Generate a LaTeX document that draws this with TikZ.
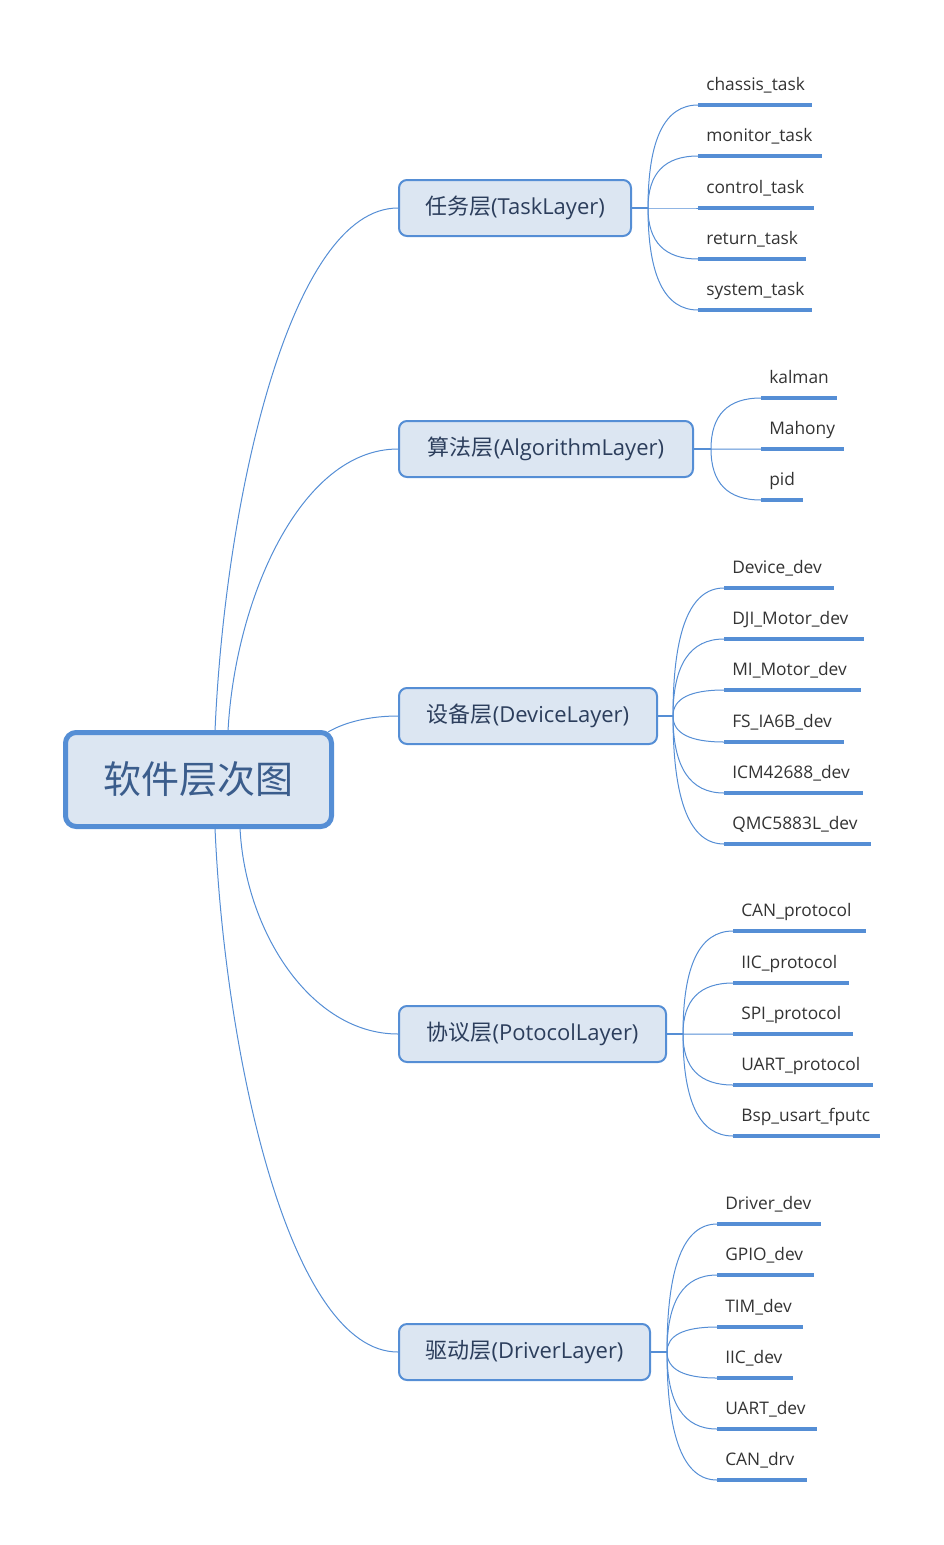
\documentclass[tikz,border=0pt]{standalone}
\usepackage{fontspec}
\setmainfont{Open Sans}
\newfontfamily\cjk{Noto Sans CJK SC}
\usetikzlibrary{calc,positioning}
\definecolor{mapblue}{HTML}{558ED5}
\definecolor{mapfill}{HTML}{DCE6F2}
\definecolor{roottext}{HTML}{3B5D8C}
\definecolor{layertext}{HTML}{2C3E5C}
\definecolor{leaftext}{HTML}{333333}
\tikzset{
		root/.style={draw=mapblue, line width=3.75pt, fill=mapfill,
			rounded corners=8pt, minimum width=199.5pt, minimum height=70.5pt,
			text=roottext, font=\cjk\fontsize{28.5}{32}\selectfont},
		layer/.style={draw=mapblue, line width=1.5pt, fill=mapfill,
			rounded corners=6pt, minimum height=42pt, anchor=west,
			text=layertext, font=\fontsize{16.5}{19}\selectfont},
		leaf/.style={anchor=base west, inner sep=0pt, text=leaftext,
			font=\fontsize{13}{15}\selectfont},
		link/.style={draw=mapblue, line width=0.75pt},
		stub/.style={draw=mapblue, line width=1.5pt},
		uline/.style={draw=mapblue, line width=2.4pt},
	}

\begin{document}
\begin{tikzpicture}[x=0.75pt, y=-0.75pt]
	\useasboundingbox (0,0) rectangle (943,1545);

	\node[root] (root) at (198.5,779.5) {软件层次图};

	\node[layer, minimum width=174pt]    (task)  at (398,208)  {{\cjk 任务层}(TaskLayer)};
	\node[layer, minimum width=220.5pt]  (algo)  at (398,449)  {{\cjk 算法层}(AlgorithmLayer)};
	\node[layer, minimum width=193.5pt]  (dev)   at (398,716)  {{\cjk 设备层}(DeviceLayer)};
	\node[layer, minimum width=200.25pt] (proto) at (398,1034) {{\cjk 协议层}(PotocolLayer)};
	\node[layer, minimum width=188.25pt] (drv)   at (398,1352) {{\cjk 驱动层}(DriverLayer)};

	% root to layers
	\coordinate (r-task)  at (215,731);
	\coordinate (r-algo)  at (228,731);
	\coordinate (r-dev)   at (328,732);
	\coordinate (r-proto) at (240,828);
	\coordinate (r-drv)   at (215,828);
	\draw[link] (r-task)  .. controls (225,500)  and (290,208)  .. (task.west);
	\draw[link] (r-algo)  .. controls (235,600)  and (300,449)  .. (algo.west);
	\draw[link] (r-dev)   .. controls (345,722)  and (370,716)  .. (dev.west);
	\draw[link] (r-proto) .. controls (245,930)  and (310,1034) .. (proto.west);
	\draw[link] (r-drv)   .. controls (225,1058) and (290,1352) .. (drv.west);

	% junctions
	\coordinate (task-j)  at (648,208);
	\coordinate (algo-j)  at (711,449);
	\coordinate (dev-j)   at (673,716);
	\coordinate (proto-j) at (683,1034);
	\coordinate (drv-j)   at (667,1352);
	\foreach \l in {task,algo,dev,proto,drv}
		\draw[stub] (\l.east) -- (\l-j);

	% leaves: text / y of underline / right end of underline
	\foreach \t/\y/\r [count=\i] in {chassis\_task/105/812, monitor\_task/156/822,
			control\_task/208/814, return\_task/259/806, system\_task/310/812}{
		\coordinate (task-\i) at (698,\y);
		\node[leaf] (task-t\i) at (706,\y-15) {\t};
		\draw[uline] (task-\i) -- (\r,\y);
		\draw[link] (task-j) .. controls ($(task-j)!.667!(task-j|-task-\i)$)
			and ($(task-\i)!.667!(task-j|-task-\i)$) .. (task-\i);
	}
	\foreach \t/\y/\r [count=\i] in {kalman/398/837, Mahony/449/844, pid/500/803}{
		\coordinate (algo-\i) at (761,\y);
		\node[leaf] (algo-t\i) at (769,\y-15) {\t};
		\draw[uline] (algo-\i) -- (\r,\y);
		\draw[link] (algo-j) .. controls ($(algo-j)!.667!(algo-j|-algo-\i)$)
			and ($(algo-\i)!.667!(algo-j|-algo-\i)$) .. (algo-\i);
	}
	\foreach \t/\y/\r [count=\i] in {Device\_dev/588/834, DJI\_Motor\_dev/639/864,
			MI\_Motor\_dev/690/861, FS\_IA6B\_dev/742/844, ICM42688\_dev/793/863,
			QMC5883L\_dev/844/871}{
		\coordinate (dev-\i) at (724,\y);
		\node[leaf] (dev-t\i) at (732,\y-15) {\t};
		\draw[uline] (dev-\i) -- (\r,\y);
		\draw[link] (dev-j) .. controls ($(dev-j)!.667!(dev-j|-dev-\i)$)
			and ($(dev-\i)!.667!(dev-j|-dev-\i)$) .. (dev-\i);
	}
	\foreach \t/\y/\r [count=\i] in {CAN\_protocol/931/866, IIC\_protocol/983/849,
			SPI\_protocol/1034/853, UART\_protocol/1085/873, Bsp\_usart\_fputc/1136/880}{
		\coordinate (proto-\i) at (733,\y);
		\node[leaf] (proto-t\i) at (741,\y-15) {\t};
		\draw[uline] (proto-\i) -- (\r,\y);
		\draw[link] (proto-j) .. controls ($(proto-j)!.667!(proto-j|-proto-\i)$)
			and ($(proto-\i)!.667!(proto-j|-proto-\i)$) .. (proto-\i);
	}
	\foreach \t/\y/\r [count=\i] in {Driver\_dev/1224/821, GPIO\_dev/1275/814,
			TIM\_dev/1327/803, IIC\_dev/1378/793, UART\_dev/1429/817, CAN\_drv/1480/807}{
		\coordinate (drv-\i) at (717,\y);
		\node[leaf] (drv-t\i) at (725,\y-15) {\t};
		\draw[uline] (drv-\i) -- (\r,\y);
		\draw[link] (drv-j) .. controls ($(drv-j)!.667!(drv-j|-drv-\i)$)
			and ($(drv-\i)!.667!(drv-j|-drv-\i)$) .. (drv-\i);
	}
\end{tikzpicture}
\end{document}
